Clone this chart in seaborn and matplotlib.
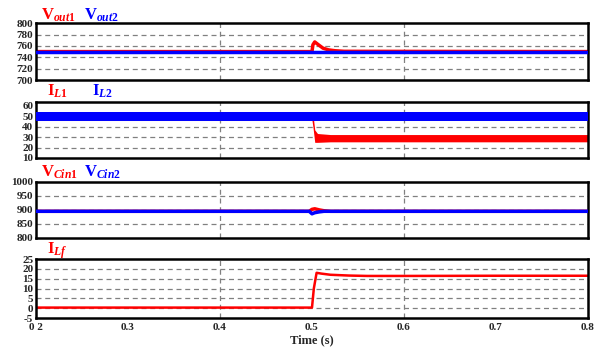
import matplotlib
matplotlib.use('Agg')
import matplotlib.pyplot as plt
import seaborn as sb

sb.set_style('white')
plt.rcParams['font.family'] = ['Liberation Serif', 'DejaVu Serif']
plt.rcParams['font.weight'] = 'bold'
plt.rcParams['axes.unicode_minus'] = False
plt.rcParams['mathtext.fontset'] = 'custom'
plt.rcParams['mathtext.rm'] = 'Liberation Serif:bold'
plt.rcParams['mathtext.it'] = 'Liberation Serif:italic:bold'

# read-off values of each trace (time in s)
t_vout1 = [0.2, 0.5, 0.501, 0.503, 0.507, 0.512, 0.518, 0.525, 0.535, 0.8]
vout1 = [750, 750, 762, 767, 762, 756, 753, 751.5, 750.5, 750]
t_vout2 = [0.2, 0.8]
vout2 = [750, 750]

t_il1 = [0.2, 0.5, 0.501, 0.503, 0.506, 0.52, 0.8]
il1_lo = [46, 46, 40, 25, 25, 25.5, 25.5]
il1_hi = [54, 54, 52, 37, 33.5, 32.5, 32.5]
t_il2 = [0.2, 0.5, 0.8]
il2_lo = [46, 46, 46]
il2_hi = [54, 54, 54]

t_vc1 = [0.2, 0.497, 0.5, 0.503, 0.508, 0.513, 0.52, 0.8]
vc1 = [895, 895, 902, 904, 900, 897, 895, 895]
t_vc2 = [0.2, 0.497, 0.5, 0.503, 0.508, 0.513, 0.8]
vc2 = [895, 895, 886, 890, 893, 895, 895]

t_ilf = [0.2, 0.5, 0.502, 0.505, 0.51, 0.52, 0.54, 0.56, 0.6, 0.7, 0.8]
ilf = [0.3, 0.3, 10, 18, 17.6, 17.0, 16.6, 16.4, 16.4, 16.5, 16.5]

xticks = [0.2, 0.3, 0.4, 0.5, 0.6, 0.7, 0.8]
xticklabels = ['0 2', '0.3', '0.4', '0.5', '0.6', '0.7', '0.8']

fig = plt.figure(figsize=(6.03, 3.51), dpi=100)
rects = [[0.0597, 0.772, 0.9154, 0.162],
         [0.0597, 0.550, 0.9154, 0.160],
         [0.0597, 0.322, 0.9154, 0.160],
         [0.0597, 0.094, 0.9154, 0.168]]
axs = [fig.add_axes(r) for r in rects]

sb.lineplot(x=t_vout1, y=vout1, ax=axs[0], color='red', lw=2.5, zorder=2)
sb.lineplot(x=t_vout2, y=vout2, ax=axs[0], color='blue', lw=2.5, zorder=3)
axs[0].set_ylim(700, 800)
axs[0].set_yticks([700, 720, 740, 760, 780, 800])

axs[1].fill_between(t_il1, il1_lo, il1_hi, color='red', lw=0, zorder=2)
axs[1].fill_between(t_il2, il2_lo, il2_hi, color='blue', lw=0, zorder=3)
axs[1].set_ylim(10, 64)
axs[1].set_yticks([10, 20, 30, 40, 50, 60])

sb.lineplot(x=t_vc1, y=vc1, ax=axs[2], color='red', lw=2.5, zorder=2)
sb.lineplot(x=t_vc2, y=vc2, ax=axs[2], color='blue', lw=2.5, zorder=3)
axs[2].set_ylim(800, 1000)
axs[2].set_yticks([800, 850, 900, 950, 1000])

sb.lineplot(x=t_ilf, y=ilf, ax=axs[3], color='red', lw=1.8)
axs[3].set_ylim(-5, 25)
axs[3].set_yticks([-5, 0, 5, 10, 15, 20, 25])

for i, ax in enumerate(axs):
    ax.set_xlim(0.2, 0.8)
    ax.set_xticks(xticks)
    yt = ax.get_yticks()
    for y in yt[1:-1]:
        ax.axhline(y, color='gray', ls='--', lw=0.9, dashes=(4, 3), zorder=0)
    for x in [0.4, 0.6]:
        ax.axvline(x, color='gray', ls='--', lw=0.9, dashes=(4, 3), zorder=0)
    for s in ax.spines.values():
        s.set_linewidth(1.8)
        s.set_color('black')
    ax.tick_params(axis='y', labelsize=8, length=0, pad=2)
    ax.tick_params(axis='x', length=0)
    ax.set_ylabel('')
    if i < 3:
        ax.set_xticklabels([])
    else:
        ax.set_xticklabels(xticklabels, fontsize=8, fontweight='bold')
    for lab in ax.get_yticklabels():
        lab.set_fontweight('bold')

axs[3].set_xlabel('Time (s)', fontsize=9, fontweight='bold', labelpad=2)

# signal labels
lbl = dict(fontsize=12, fontweight='bold', transform=fig.transFigure)
fig.text(0.068, 0.945, r'V$_{\mathit{out1}}$', color='red', **lbl)
fig.text(0.140, 0.945, r'V$_{\mathit{out2}}$', color='blue', **lbl)
fig.text(0.078, 0.727, r'I$_{\mathit{L1}}$', color='red', **lbl)
fig.text(0.152, 0.727, r'I$_{\mathit{L2}}$', color='blue', **lbl)
fig.text(0.068, 0.497, r'V$_{\mathit{Cin1}}$', color='red', **lbl)
fig.text(0.140, 0.497, r'V$_{\mathit{Cin2}}$', color='blue', **lbl)
fig.text(0.078, 0.277, r'I$_{\mathit{Lf}}$', color='red', **lbl)

plt.savefig('out.png', dpi=100)
